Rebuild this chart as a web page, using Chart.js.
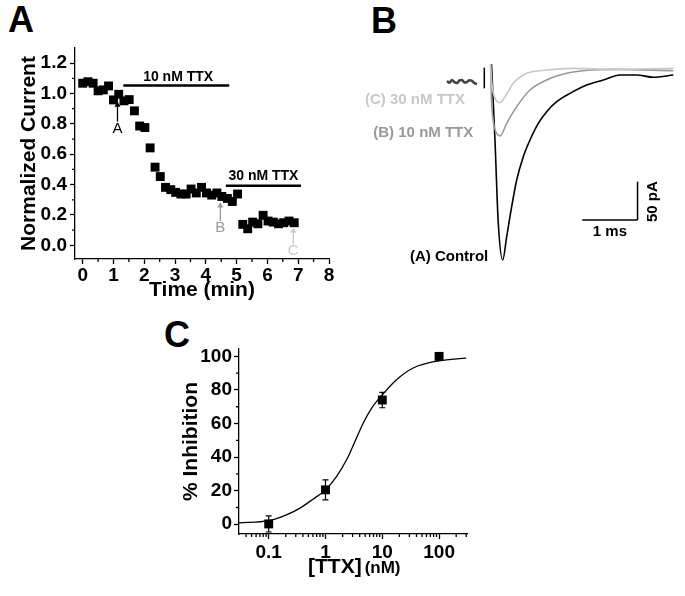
<!DOCTYPE html>
<html>
<head>
<meta charset="utf-8">
<script src="https://cdn.jsdelivr.net/npm/chart.js@4.4.0/dist/chart.umd.min.js"></script>
<style>
    body { margin: 0; background: #fff; width: 685px; height: 596px; position: relative; overflow: hidden;
           font-family: 'Liberation Sans', Arial, sans-serif; }
    canvas { position: absolute; }
    .letter { position: absolute; font-weight: bold; font-size: 36px; line-height: 36px; }
    .xtitle { position: absolute; font-weight: bold; font-size: 21px; line-height: 21px; white-space: nowrap; }
</style>
</head>
<body>

<div class="letter" style="left:8px; top:2px;">A</div>
<div class="letter" style="left:371px; top:3px;">B</div>
<div class="letter" style="left:164px; top:317px;">C</div>

<canvas id="chartA" width="345" height="310" style="left:0; top:0;"></canvas>
<canvas id="chartB" width="345" height="300" style="left:340px; top:0;"></canvas>
<canvas id="chartC" width="330" height="286" style="left:170px; top:310px;"></canvas>

<div class="xtitle" style="left:308px; top:555px;">[TTX]<span style="font-size:17px; margin-left:3px;">(nM)</span></div>

<script>
// =============================
//  DADOS
// =============================

// Painel A - corrente normalizada x tempo
const timeMin = [0, 0.17, 0.34, 0.5, 0.67, 0.84, 1.0, 1.17, 1.34, 1.51, 1.68, 1.85,
                 2.02, 2.19, 2.35, 2.52, 2.69, 2.86, 3.02, 3.19, 3.36, 3.52, 3.69, 3.86,
                 4.02, 4.19, 4.36, 4.52, 4.7, 4.86, 5.03, 5.2, 5.36, 5.52, 5.69, 5.86,
                 6.02, 6.19, 6.36, 6.53, 6.7, 6.87];
const normCurrent = [1.068, 1.078, 1.068, 1.018, 1.024, 1.05, 0.958, 0.995, 0.952, 0.96, 0.886, 0.786,
                     0.776, 0.642, 0.515, 0.453, 0.382, 0.367, 0.349, 0.338, 0.338, 0.371, 0.345, 0.382,
                     0.345, 0.331, 0.345, 0.322, 0.309, 0.289, 0.338, 0.138, 0.109, 0.153, 0.142, 0.198,
                     0.16, 0.153, 0.142, 0.149, 0.16, 0.149];
const xTicksA = [0, 1, 2, 3, 4, 5, 6, 7, 8];
const yTicksA = [0, 0.2, 0.4, 0.6, 0.8, 1.0, 1.2];
const xMinorA = [0.5, 1.5, 2.5, 3.5, 4.5, 5.5, 6.5, 7.5];
const yMinorA = [0.1, 0.3, 0.5, 0.7, 0.9, 1.1];
const ttx10Period = [1.32, 4.76];   // aplicação 10 nM (min)
const ttx30Period = [4.65, 7.09];   // aplicação 30 nM (min)
const arrowTimes = [1.13, 4.47, 6.84];   // registros A, B, C

// Painel B - correntes (ms, pA)
const timeControl = [0.009, 0.072, 0.132, 0.212, 0.284, 0.374, 0.465, 0.584, 0.705, 0.855, 1.007,
                     1.188, 1.429, 1.731, 2.031, 2.333, 2.635, 2.935, 3.297];
const currControl = [7.8, -91.3, -199.9, -247.7, -217.3, -178.2, -143.4, -113.0, -91.3, -69.5, -54.4,
                     -41.3, -30.4, -19.6, -13.0, -6.5, -6.5, -9.5, -6.5];
const timeTtx10 = [-0.009, 0.009, 0.054, 0.108, 0.163, 0.284, 0.465, 0.705, 1.007, 1.369, 1.79, 2.212, 3.297];
const currTtx10 = [7.8, -39.1, -71.7, -83.4, -86.1, -69.5, -47.8, -26.1, -13.0, -4.3, 0, 0.9, -0.9];
const timeTtx30 = [-0.009, 0.018, 0.072, 0.163, 0.253, 0.403, 0.646, 1.007, 1.488, 2.212, 3.297];
const currTtx30 = [7.8, -19.6, -36.5, -42.6, -34.8, -17.3, -4.3, 0, 2.2, 0.9, 2.2];
const timePre = [-0.796, -0.75, -0.705, -0.66, -0.615, -0.57, -0.524, -0.48, -0.434, -0.39, -0.344, -0.3, -0.253];
const currPre = [-14.3, -16.5, -13.0, -15.8, -16.9, -13.6, -13.0, -16.2, -15.6, -13.4, -14.3, -17.0, -18.3];
const timeArtifact = [-0.121, -0.121];
const currArtifact = [3.0, -23.9];
const scaleBarMs = [1.65, 2.65];
const scaleBarPa = [-195.6, -145.6];

// Painel C - curva dose-resposta
const ttxConc = [0.1, 1, 10, 100];
const inhibition = [0.2, 20.5, 74, 100];
const inhibitionErr = [4.8, 6, 4.6, 0];
const fitConc = [0.03, 0.1, 0.2, 0.35, 0.6, 1, 1.56, 2.35, 3.3, 4.6, 6.5, 10, 17.8, 35, 100, 300];
const fitInhib = [0.8, 2.2, 5.5, 9.5, 14.9, 20.5, 28.4, 38.4, 49.3, 60.2, 69.2, 77.1, 86.1, 93.1, 97.4, 99];
const xTicksC = [0.1, 1, 10, 100];
const yTicksC = [0, 20, 40, 60, 80, 100];
const xMinorC = [0.04, 0.05, 0.06, 0.07, 0.08, 0.09, 0.2, 0.3, 0.4, 0.5, 0.6, 0.7, 0.8, 0.9,
                 2, 3, 4, 5, 6, 7, 8, 9, 20, 30, 40, 50, 60, 70, 80, 90, 200, 300];
const yMinorC = [10, 30, 50, 70, 90];

// =============================
//  PLUGINS
// =============================
const FONT = "'Liberation Sans', Arial, sans-serif";
Chart.defaults.font.family = FONT;
Chart.defaults.color = '#000';

const pts = (xs, ys) => xs.map((v, i) => ({ x: v, y: ys[i] }));

// ticks menores (mais curtos)
const minorTicks = {
    id: 'minorTicks',
    afterDraw(chart, args, opts) {
        const ctx = chart.ctx;
        const { x, y } = chart.scales;
        ctx.save();
        ctx.strokeStyle = '#000';
        ctx.lineWidth = 1.3;
        ctx.beginPath();
        (opts.x || []).forEach(v => {
            const px = x.getPixelForValue(v);
            ctx.moveTo(px, x.top); ctx.lineTo(px, x.top + 3);
        });
        (opts.y || []).forEach(v => {
            const py = y.getPixelForValue(v);
            ctx.moveTo(y.right, py); ctx.lineTo(y.right - 3, py);
        });
        ctx.stroke();
        ctx.restore();
    }
};

// textos posicionados nas coordenadas dos dados
const notes = {
    id: 'notes',
    afterDatasetsDraw(chart, args, opts) {
        const ctx = chart.ctx;
        const { x, y } = chart.scales;
        (opts.items || []).forEach(it => {
            ctx.save();
            ctx.font = it.font;
            ctx.fillStyle = it.color || '#000';
            ctx.textAlign = it.align || 'center';
            ctx.textBaseline = 'middle';
            ctx.translate(x.getPixelForValue(it.x), y.getPixelForValue(it.y));
            if (it.rotate) ctx.rotate(it.rotate);
            ctx.fillText(it.text, 0, 0);
            ctx.restore();
        });
    }
};

// barras de erro
const errorBars = {
    id: 'errorBars',
    beforeDatasetsDraw(chart) {
        const ctx = chart.ctx;
        const { x, y } = chart.scales;
        chart.data.datasets.forEach(ds => {
            if (!ds.errors) return;
            ctx.save();
            ctx.strokeStyle = '#000';
            ctx.lineWidth = 1.2;
            ds.data.forEach((p, i) => {
                const e = ds.errors[i];
                if (!e) return;
                const px = x.getPixelForValue(p.x);
                const top = y.getPixelForValue(p.y + e);
                const bot = y.getPixelForValue(p.y - e);
                ctx.beginPath();
                ctx.moveTo(px, top); ctx.lineTo(px, bot);
                ctx.moveTo(px - 3, top); ctx.lineTo(px + 3, top);
                ctx.moveTo(px - 3, bot); ctx.lineTo(px + 3, bot);
                ctx.stroke();
            });
            ctx.restore();
        });
    }
};

function axis(opts) {
    return Object.assign({
        grid: { display: true, drawOnChartArea: false, drawTicks: true, tickLength: 5, tickColor: '#000', tickWidth: 1.3 },
        border: { display: true, color: '#000', width: 1.3 }
    }, opts);
}

const lineDs = (data, color, width) => ({
    data, showLine: true, borderColor: color, borderWidth: width, pointRadius: 0,
    cubicInterpolationMode: 'monotone', fill: false
});

const arrowDs = (x, y0, y1, color) => ({
    data: [{ x, y: y0 }, { x, y: y1 }], showLine: true, borderColor: color, borderWidth: 1.3,
    pointRadius: [0, 3.5], pointStyle: 'triangle', backgroundColor: color, pointBorderWidth: 0
});

// =============================
//  PAINEL A
// =============================
new Chart(document.getElementById('chartA'), {
    type: 'scatter',
    data: {
        datasets: [
            { data: pts(timeMin, normCurrent), pointStyle: 'rect', pointRadius: 6.3,
              backgroundColor: '#000', borderColor: '#000', borderWidth: 0 },
            lineDs(pts(ttx10Period, [1.053, 1.053]), '#000', 2.5),
            lineDs(pts(ttx30Period, [0.392, 0.392]), '#000', 2.5),
            arrowDs(arrowTimes[0], 0.815, 0.925, '#000'),
            arrowDs(arrowTimes[1], 0.16, 0.26, '#999'),
            arrowDs(arrowTimes[2], 0.005, 0.095, '#c8c8c8')
        ]
    },
    options: {
        responsive: false, animation: false,
        layout: { padding: { left: 0, top: 48, right: 16, bottom: 0 } },
        plugins: {
            legend: { display: false }, tooltip: { enabled: false },
            minorTicks: { x: xMinorA, y: yMinorA },
            notes: { items: [
                { x: 3.1, y: 1.11, text: '10 nM TTX', font: `bold 14px ${FONT}` },
                { x: 5.87, y: 0.458, text: '30 nM TTX', font: `bold 14px ${FONT}` },
                { x: arrowTimes[0], y: 0.77, text: 'A', font: `15px ${FONT}` },
                { x: arrowTimes[1], y: 0.115, text: 'B', font: `15px ${FONT}`, color: '#999' },
                { x: arrowTimes[2], y: -0.035, text: 'C', font: `15px ${FONT}`, color: '#c8c8c8' }
            ] }
        },
        scales: {
            x: axis({
                type: 'linear', min: -0.25, max: 8,
                afterBuildTicks: s => { s.ticks = xTicksA.map(v => ({ value: v })); },
                afterFit: s => { s.height = 51; },
                ticks: { font: { size: 19, weight: 'bold' }, color: '#000', padding: 0, maxRotation: 0, autoSkip: false },
                title: { display: true, text: 'Time (min)', font: { size: 21, weight: 'bold' }, color: '#000', padding: { top: 0, bottom: 7 } }
            }),
            y: axis({
                type: 'linear', min: -0.09, max: 1.3,
                afterBuildTicks: s => { s.ticks = yTicksA.map(v => ({ value: v })); },
                afterFit: s => { s.width = 75; },
                ticks: { font: { size: 19, weight: 'bold' }, color: '#000', padding: 3, autoSkip: false,
                         callback: v => v.toFixed(1) },
                title: { display: true, text: 'Normalized Current', font: { size: 21, weight: 'bold' }, color: '#000', padding: { top: 17, bottom: 0 } }
            })
        }
    },
    plugins: [minorTicks, notes]
});

// =============================
//  PAINEL B
// =============================
new Chart(document.getElementById('chartB'), {
    type: 'scatter',
    data: {
        datasets: [
            lineDs(pts(timePre, currPre), '#444', 2.6),
            lineDs(pts(timeArtifact, currArtifact), '#000', 1.5),
            lineDs(pts(timeTtx30, currTtx30), '#c8c8c8', 1.6),
            lineDs(pts(timeTtx10, currTtx10), '#999', 1.6),
            lineDs(pts(timeControl, currControl), '#000', 1.6),
            lineDs(pts(scaleBarMs, [scaleBarPa[0], scaleBarPa[0]]), '#000', 1.5),
            lineDs(pts([scaleBarMs[1], scaleBarMs[1]], scaleBarPa), '#000', 1.5)
        ]
    },
    options: {
        responsive: false, animation: false,
        layout: { padding: 0 },
        plugins: {
            legend: { display: false }, tooltip: { enabled: false },
            notes: { items: [
                { x: -0.47, y: -39.1, text: '(C) 30 nM TTX', align: 'right', color: '#c8c8c8', font: `bold 15px ${FONT}` },
                { x: -0.32, y: -81.7, text: '(B) 10 nM TTX', align: 'right', color: '#999', font: `bold 15px ${FONT}` },
                { x: -0.049, y: -243.4, text: '(A) Control', align: 'right', font: `bold 15px ${FONT}` },
                { x: 2.15, y: -210.8, text: '1 ms', font: `bold 15px ${FONT}` },
                { x: 2.935, y: -171.7, text: '50 pA', font: `bold 15px ${FONT}`, rotate: -Math.PI / 2 }
            ] }
        },
        scales: {
            x: { type: 'linear', display: false, min: -2.73, max: 3.508 },
            y: { type: 'linear', display: false, min: -299.9, max: 91.3 }
        }
    },
    plugins: [notes]
});

// =============================
//  PAINEL C
// =============================
new Chart(document.getElementById('chartC'), {
    type: 'scatter',
    data: {
        datasets: [
            lineDs(pts(fitConc, fitInhib), '#000', 1.3),
            { data: pts(ttxConc, inhibition), errors: inhibitionErr, pointStyle: 'rect', pointRadius: 6.3,
              backgroundColor: '#000', borderColor: '#000', borderWidth: 0 }
        ]
    },
    options: {
        responsive: false, animation: false,
        layout: { padding: { left: 0, top: 39, right: 33, bottom: 0 } },
        plugins: {
            legend: { display: false }, tooltip: { enabled: false },
            minorTicks: { x: xMinorC, y: yMinorC }
        },
        scales: {
            x: axis({
                type: 'logarithmic', min: 0.03, max: 310,
                afterBuildTicks: s => { s.ticks = xTicksC.map(v => ({ value: v })); },
                afterFit: s => { s.height = 62; },
                ticks: { font: { size: 19, weight: 'bold' }, color: '#000', padding: 2, maxRotation: 0, autoSkip: false,
                         callback: v => String(v) }
            }),
            y: axis({
                type: 'linear', min: -5.8, max: 104.4,
                afterBuildTicks: s => { s.ticks = yTicksC.map(v => ({ value: v })); },
                afterFit: s => { s.width = 69; },
                ticks: { font: { size: 19, weight: 'bold' }, color: '#000', padding: 2, autoSkip: false },
                title: { display: true, text: '% Inhibition', font: { size: 21, weight: 'bold' }, color: '#000', padding: { top: 9, bottom: 0 } }
            })
        }
    },
    plugins: [minorTicks, errorBars]
});
</script>
</body>
</html>
